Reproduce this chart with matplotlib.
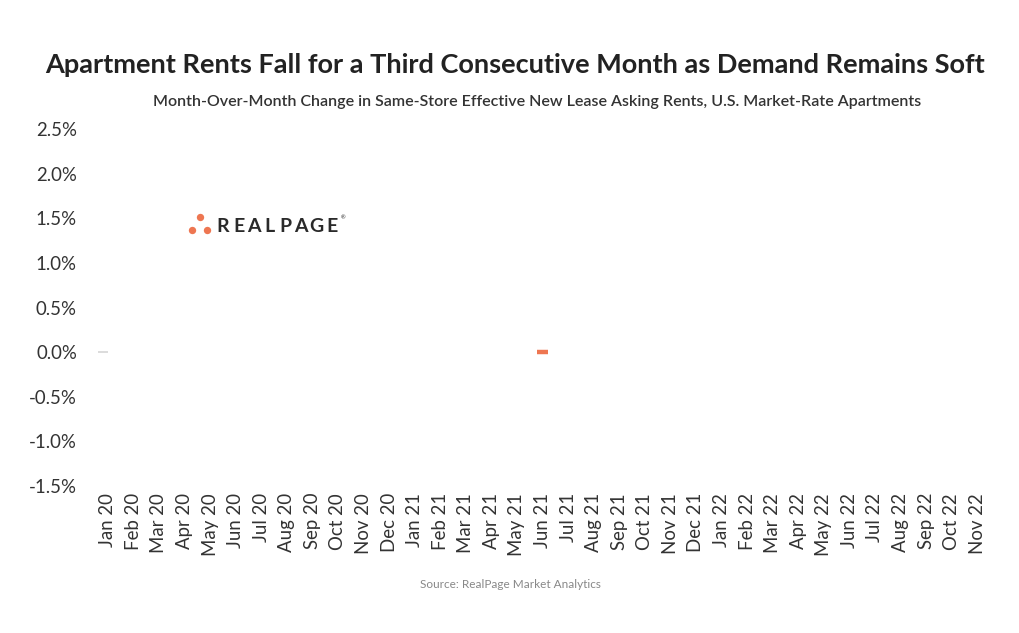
import numpy as np
import matplotlib.pyplot as plt

plt.rcParams['font.family'] = ['Lato', 'DejaVu Sans']

# months shown on the axis
months = ["Jan 20", "Feb 20", "Mar 20", "Apr 20", "May 20", "Jun 20", "Jul 20", "Aug 20",
          "Sep 20", "Oct 20", "Nov 20", "Dec 20", "Jan 21", "Feb 21", "Mar 21", "Apr 21",
          "May 21", "Jun 21", "Jul 21", "Aug 21", "Sep 21", "Oct 21", "Nov 21", "Dec 21",
          "Jan 22", "Feb 22", "Mar 22", "Apr 22", "May 22", "Jun 22", "Jul 22", "Aug 22",
          "Sep 22", "Oct 22", "Nov 22"]
# only one bar is drawn in this frame (Jun 21, ~0%)
bar_month = ["Jun 21"]
bar_value = [0.0]

y_ticks = [-1.5, -1.0, -0.5, 0.0, 0.5, 1.0, 1.5, 2.0, 2.5]

ORANGE = "#ee7651"
TXT = "#333333"

fig = plt.figure(figsize=(10.2, 6.33), dpi=100)
ax = fig.add_axes([0.0931, 0.2322, 0.8775, 0.5640])

x = np.arange(len(months))
xb = [months.index(m) for m in bar_month]
ax.bar(xb, bar_value, width=0.46, color=ORANGE, edgecolor=ORANGE, linewidth=3.2,
       joinstyle="miter")
# faint zero stub at the start of the axis
ax.hlines(0, -0.38, 0.0, color="#d6d6d6", linewidth=1.2)

ax.set_xlim(-0.5, len(months) - 0.5)
ax.set_ylim(-1.5, 2.5)
ax.set_xticks(x)
ax.set_xticklabels(months, rotation=90, fontsize=13.4, color=TXT)
ax.set_yticks(y_ticks)
ax.set_yticklabels([f"{v:.1f}%" for v in y_ticks], fontsize=13.4, color=TXT)
ax.tick_params(length=0, pad=5)
ax.tick_params(axis="y", pad=13)
for s in ax.spines.values():
    s.set_visible(False)

fig.text(0.505, 0.898, "Apartment Rents Fall for a Third Consecutive Month as Demand Remains Soft",
         ha="center", va="center", fontsize=19.5, fontweight="bold", color="#222222")
fig.text(0.527, 0.839, "Month-Over-Month Change in Same-Store Effective New Lease Asking Rents, U.S. Market-Rate Apartments",
         ha="center", va="center", fontsize=11.5, fontweight="semibold", color=TXT)
fig.text(0.5, 0.077, "Source: RealPage Market Analytics", ha="center", va="center",
         fontsize=8.5, color="#888888")

# RealPage logo, drawn on a full-figure overlay in pixel units
lax = fig.add_axes([0, 0, 1, 1], zorder=5)
lax.set_xlim(0, 1020)
lax.set_ylim(633, 0)
lax.axis("off")
dots_x = [200, 192, 207]
dots_y = [217, 230, 230]
lax.scatter(dots_x, dots_y, s=28, color=ORANGE, linewidths=0)
for i, ch in enumerate("REALPAGE"):
    lax.text(223 + i * 15.6, 226, ch, ha="center", va="center",
             fontsize=14, fontweight="bold", color="#2a2a2a")
lax.text(343, 218, "®", ha="center", va="center", fontsize=4, color="#2a2a2a")

fig.savefig("out.png", dpi=100)
